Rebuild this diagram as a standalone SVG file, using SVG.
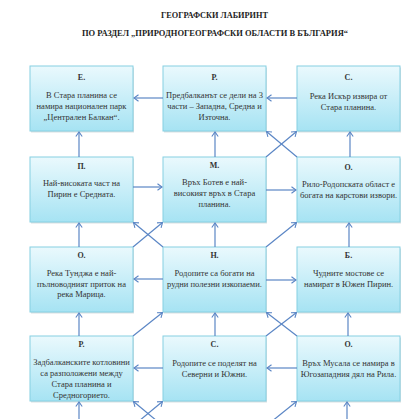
<svg xmlns="http://www.w3.org/2000/svg" width="412" height="419" viewBox="0 0 412 419">
<defs>
<linearGradient id="g" x1="0" y1="0" x2="0" y2="1">
<stop offset="0" stop-color="#eaf9fd"/>
<stop offset="1" stop-color="#a6e3f3"/>
</linearGradient>
<marker id="a" markerUnits="userSpaceOnUse" markerWidth="10" markerHeight="10" refX="6" refY="5" orient="auto">
<path d="M1.5,1.8 L6,5 L1.5,8.2" fill="none" stroke="#5b86c5" stroke-width="1.1"/>
</marker>
</defs>
<style>
.sh{fill:#c9d3d6;opacity:0.7}
.b{fill:url(#g);stroke:#86d0e2;stroke-width:1}
.t{font-family:"Liberation Serif","Times New Roman",serif;font-size:8.5px;fill:#333;text-anchor:middle}
.h{font-family:"Liberation Serif","Times New Roman",serif;font-size:8px;font-weight:bold;fill:#333;text-anchor:middle}
.c line{stroke:#5b86c5;stroke-width:1.2;marker-end:url(#a)}
.ti{font-family:"Liberation Serif","Times New Roman",serif;font-size:7.5px;font-weight:bold;fill:#222;text-anchor:middle}
</style>
<rect width="412" height="419" fill="#fff"/>
<g id="title">
<text class="ti" x="214.5" y="18" textLength="107" lengthAdjust="spacingAndGlyphs">ГЕОГРАФСКИ ЛАБИРИНТ</text>
<text class="ti" x="215" y="36" textLength="266" lengthAdjust="spacingAndGlyphs">ПО РАЗДЕЛ „ПРИРОДНОГЕОГРАФСКИ ОБЛАСТИ В БЪЛГАРИЯ“</text>
</g>
<g id="n1">
<rect class="sh" x="31" y="67.5" width="103" height="65"/><rect class="b" x="30" y="66" width="103" height="65"/>
<text class="h" x="81.5" y="80">Е.</text>
<text class="t" x="81.5" y="98">В Стара планина се</text>
<text class="t" x="81.5" y="109">намира национален парк</text>
<text class="t" x="81.5" y="120">„Централен Балкан“.</text>
</g>
<g id="n2">
<rect class="sh" x="164" y="67.5" width="103" height="65"/><rect class="b" x="163" y="66" width="103" height="65"/>
<text class="h" x="214.5" y="80">Р.</text>
<text class="t" x="214.5" y="98">Предбалканът се дели на 3</text>
<text class="t" x="214.5" y="109">части – Западна, Средна и</text>
<text class="t" x="214.5" y="120">Източна.</text>
</g>
<g id="n3">
<rect class="sh" x="298" y="67.5" width="103" height="65"/><rect class="b" x="297" y="66" width="103" height="65"/>
<text class="h" x="348.5" y="80">С.</text>
<text class="t" x="348.5" y="99">Река Искър извира от</text>
<text class="t" x="348.5" y="110">Стара планина.</text>
</g>
<g id="n4">
<rect class="sh" x="31" y="158.5" width="103" height="65"/><rect class="b" x="30" y="157" width="103" height="65"/>
<text class="h" x="81.5" y="169">П.</text>
<text class="t" x="81.5" y="186">Най-високата част на</text>
<text class="t" x="81.5" y="197">Пирин е Средната.</text>
</g>
<g id="n5">
<rect class="sh" x="164" y="158.5" width="103" height="65"/><rect class="b" x="163" y="157" width="103" height="65"/>
<text class="h" x="214.5" y="168">М.</text>
<text class="t" x="214.5" y="185">Връх Ботев е най-</text>
<text class="t" x="214.5" y="196">високият връх в Стара</text>
<text class="t" x="214.5" y="207">планина.</text>
</g>
<g id="n6">
<rect class="sh" x="298" y="158.5" width="103" height="65"/><rect class="b" x="297" y="157" width="103" height="65"/>
<text class="h" x="348.5" y="170">О.</text>
<text class="t" x="348.5" y="187">Рило-Родопската област е</text>
<text class="t" x="348.5" y="198">богата на карстови извори.</text>
</g>
<g id="n7">
<rect class="sh" x="31" y="248.5" width="103" height="65"/><rect class="b" x="30" y="247" width="103" height="65"/>
<text class="h" x="81.5" y="258">О.</text>
<text class="t" x="81.5" y="276">Река Тунджа е най-</text>
<text class="t" x="81.5" y="287">пълноводният приток на</text>
<text class="t" x="81.5" y="297">река Марица.</text>
</g>
<g id="n8">
<rect class="sh" x="164" y="248.5" width="103" height="65"/><rect class="b" x="163" y="247" width="103" height="65"/>
<text class="h" x="214.5" y="258">Н.</text>
<text class="t" x="214.5" y="276">Родопите са богати на</text>
<text class="t" x="214.5" y="287">рудни полезни изкопаеми.</text>
</g>
<g id="n9">
<rect class="sh" x="298" y="248.5" width="103" height="65"/><rect class="b" x="297" y="247" width="103" height="65"/>
<text class="h" x="348.5" y="258">Б.</text>
<text class="t" x="348.5" y="276">Чудните мостове се</text>
<text class="t" x="348.5" y="287">намират в Южен Пирин.</text>
</g>
<g id="n10">
<rect class="sh" x="31" y="337.5" width="103" height="65"/><rect class="b" x="30" y="336" width="103" height="65"/>
<text class="h" x="81.5" y="347">Р.</text>
<text class="t" x="81.5" y="365">Задбалканските котловини</text>
<text class="t" x="81.5" y="376">са разположени между</text>
<text class="t" x="81.5" y="387">Стара планина и</text>
<text class="t" x="81.5" y="398">Средногорието.</text>
</g>
<g id="n11">
<rect class="sh" x="164" y="337.5" width="103" height="65"/><rect class="b" x="163" y="336" width="103" height="65"/>
<text class="h" x="214.5" y="347">С.</text>
<text class="t" x="214.5" y="366">Родопите се поделят на</text>
<text class="t" x="214.5" y="377">Северни и Южни.</text>
</g>
<g id="n12">
<rect class="sh" x="298" y="337.5" width="103" height="65"/><rect class="b" x="297" y="336" width="103" height="65"/>
<text class="h" x="348.5" y="347">О.</text>
<text class="t" x="348.5" y="366">Връх Мусала се намира в</text>
<text class="t" x="348.5" y="377">Югозападния дял на Рила.</text>
</g>
<g id="connectors" class="c">
<line x1="297" y1="98" x2="267" y2="98"/>
<line x1="163" y1="98" x2="134" y2="98"/>
<line x1="79" y1="157" x2="79" y2="132"/>
<line x1="215" y1="157" x2="215" y2="132"/>
<line x1="350" y1="157" x2="350" y2="132"/>
<line x1="266" y1="157" x2="296.5" y2="131.5"/>
<line x1="297" y1="157" x2="266.5" y2="131.5"/>
<line x1="133" y1="187" x2="162" y2="187"/>
<line x1="266" y1="190" x2="296" y2="190"/>
<line x1="79" y1="247" x2="79" y2="223"/>
<line x1="215" y1="247" x2="215" y2="223"/>
<line x1="349" y1="247" x2="349" y2="223"/>
<line x1="133" y1="247" x2="162.5" y2="222.5"/>
<line x1="163" y1="247" x2="133.5" y2="222.5"/>
<line x1="266" y1="247" x2="296.5" y2="222.5"/>
<line x1="163" y1="279" x2="134" y2="279"/>
<line x1="266" y1="280" x2="296" y2="280"/>
<line x1="79" y1="336" x2="79" y2="313"/>
<line x1="215" y1="336" x2="215" y2="313"/>
<line x1="348" y1="336" x2="348" y2="313"/>
<line x1="133" y1="336" x2="162.5" y2="312.5"/>
<line x1="266" y1="336" x2="296.5" y2="312.5"/>
<line x1="297" y1="336" x2="266.5" y2="312.5"/>
<line x1="163" y1="368" x2="134" y2="368"/>
<line x1="297" y1="368" x2="267" y2="368"/>
<line x1="79" y1="425" x2="79" y2="402"/>
<line x1="347" y1="425" x2="347" y2="402"/>
<line x1="133" y1="426" x2="162.5" y2="401.5"/>
<line x1="163" y1="426" x2="133.5" y2="401.5"/>
<line x1="266" y1="426" x2="296.5" y2="401.5"/>
</g>
</svg>
